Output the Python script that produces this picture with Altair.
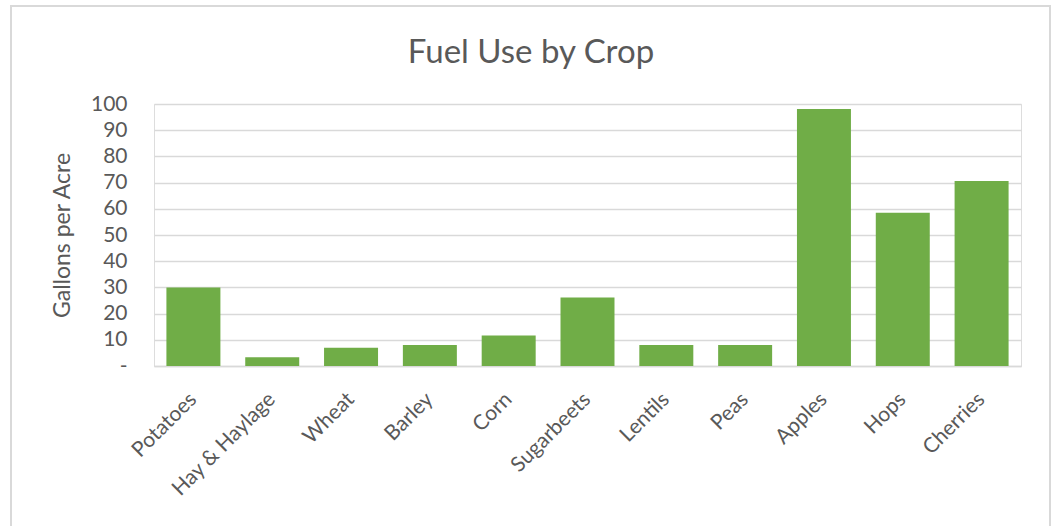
import altair as alt
import pandas as pd

crops = ["Potatoes", "Hay & Haylage", "Wheat", "Barley", "Corn", "Sugarbeets",
         "Lentils", "Peas", "Apples", "Hops", "Cherries"]
gallons = [30.0, 3.3, 7.0, 8.0, 11.6, 26.1, 8.0, 8.0, 98.1, 58.5, 70.6]
y_ticks = [0, 10, 20, 30, 40, 50, 60, 70, 80, 90, 100]
title_text = "Fuel Use by Crop"

df = pd.DataFrame({"Crop": crops, "Gallons": gallons})

FONT = "Lato"
TXT = "#595959"
GRID = "#D9D9D9"

bars = alt.Chart(df).mark_bar(color="#70AD47").encode(
    x=alt.X("Crop:N", sort=crops,
            scale=alt.Scale(paddingInner=0.315, paddingOuter=0.1575),
            axis=alt.Axis(title=None, labelAngle=-45, labelAlign="right",
                          labelBaseline="middle", labelFontSize=21, labelFont=FONT,
                          labelColor=TXT, ticks=False, labelPadding=30,
                          domainColor=GRID, domainWidth=1.5, grid=False)),
    y=alt.Y("Gallons:Q", scale=alt.Scale(domain=[0, 100], nice=False),
            axis=alt.Axis(title="Gallons per Acre", values=y_ticks,
                          labelExpr="datum.value == 0 ? '-' : datum.label",
                          labelFontSize=21, labelFont=FONT, labelColor=TXT,
                          ticks=False, domain=False, labelPadding=27,
                          titleFontSize=23, titleFont=FONT, titleColor=TXT,
                          titleFontWeight="normal", titlePadding=16,
                          gridColor=GRID, gridWidth=1.5)),
)

title = alt.Chart(pd.DataFrame({"t": [title_text]})).mark_text(
    font=FONT, fontSize=33, color=TXT, align="center", baseline="alphabetic"
).encode(text="t:N", x=alt.value(377), y=alt.value(-41))

frame = alt.Chart(pd.DataFrame({"a": [0]})).mark_rect(
    fill=None, stroke=GRID, strokeWidth=2
).encode(
    x=alt.value(-143), x2=alt.value(896), y=alt.value(-98), y2=alt.value(440)
)

chart = alt.layer(bars, title, frame).properties(
    width=867, height=262,
    autosize=alt.AutoSizeParams(type="none"),
    padding={"left": 154, "right": 36, "top": 104, "bottom": 160},
).configure_view(stroke=None).configure(background="white")

chart.save("out.html", embed_options={"renderer": "svg", "actions": False})
